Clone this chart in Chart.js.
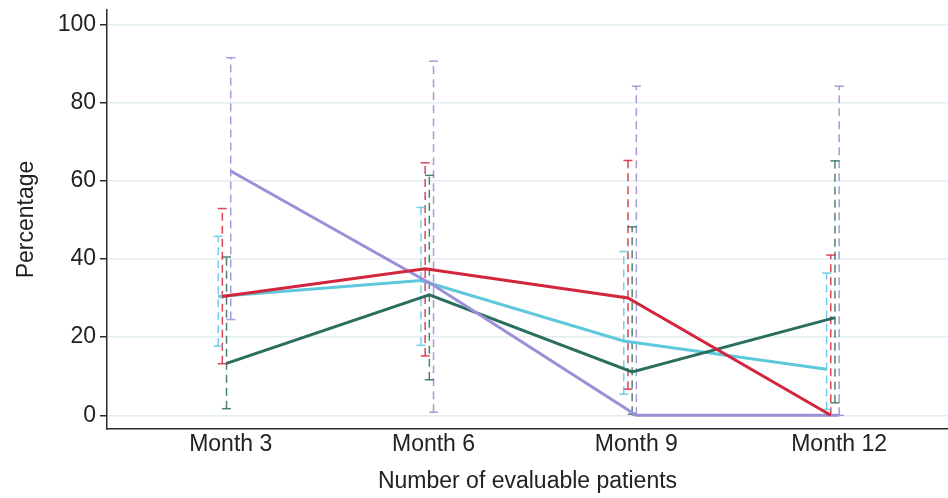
<!DOCTYPE html>
<html>
<head>
<meta charset="utf-8">
<script src="https://cdn.jsdelivr.net/npm/chart.js@4.4.1/dist/chart.umd.min.js"></script>
<style>
html,body{margin:0;padding:0;background:#fff;}
#wrap{width:948px;height:498px;}
</style>
</head>
<body>
<div id="wrap"><canvas id="c" width="948" height="498"></canvas></div>
<script>
// ---- data ----
const monthValues = [3, 6, 9, 12];
const monthLabels = ['Month 3', 'Month 6', 'Month 9', 'Month 12'];
const yTickValues = [0, 20, 40, 60, 80, 100];

const redValues    = [30.4, 37.5, 30.0, 0];
const redLower     = [13.2, 15.2, 6.7, 0];
const redUpper     = [52.9, 64.6, 65.2, 41.0];

const cyanValues   = [30.4, 34.5, 19.0, 11.8];
const cyanLower    = [17.7, 17.9, 5.4, 1.5];
const cyanUpper    = [45.8, 53.2, 41.9, 36.4];

const greenValues  = [13.3, 30.8, 11.1, 25.0];
const greenLower   = [1.7, 9.1, 0.3, 3.2];
const greenUpper   = [40.5, 61.4, 48.2, 65.1];

const purpleValues = [62.5, 33.3, 0, 0];
const purpleLower  = [24.5, 0.8, 0, 0];
const purpleUpper  = [91.5, 90.6, 84.2, 84.2];

// ---- styling / dodge (not data) ----
const series = [
  {vals: cyanValues,   lo: cyanLower,   hi: cyanUpper,   color: '#5ec8dc', bar: 'rgba(94,200,220,0.85)',  dodge: -0.186},
  {vals: redValues,    lo: redLower,    hi: redUpper,    color: '#d3263c', bar: 'rgba(211,38,60,0.85)',   dodge: -0.124},
  {vals: greenValues,  lo: greenLower,  hi: greenUpper,  color: '#2b6e5d', bar: 'rgba(43,110,93,0.85)',   dodge: -0.062},
  {vals: purpleValues, lo: purpleLower, hi: purpleUpper, color: '#9b90d8', bar: 'rgba(155,144,216,0.9)',  dodge: 0}
];
const lineOrder = {0: 3, 1: 0, 2: 2, 3: 1};

const datasets = [];
series.forEach((s, si) => {
  const bars = [];
  monthValues.forEach((m, i) => {
    bars.push({x: m + s.dodge, y: s.lo[i]});
    bars.push({x: m + s.dodge, y: s.hi[i]});
    bars.push({x: m + s.dodge, y: null});
  });
  datasets.push({
    data: bars,
    showLine: true,
    spanGaps: false,
    borderColor: s.bar,
    borderWidth: 1.5,
    borderDash: [8, 5],
    pointStyle: 'line',
    pointRadius: 4.5,
    pointBorderColor: s.bar,
    pointBorderWidth: 1.5,
    pointHoverRadius: 4.5,
    order: 10 + si
  });
});
series.forEach((s, si) => {
  datasets.push({
    data: monthValues.map((m, i) => ({x: m + s.dodge, y: s.vals[i]})),
    showLine: true,
    borderColor: s.color,
    borderWidth: 3,
    pointRadius: 0,
    tension: 0,
    order: lineOrder[si]
  });
});

const font = {family: "'Liberation Sans', Arial, sans-serif", size: 23};

new Chart(document.getElementById('c'), {
  type: 'scatter',
  data: {datasets},
  options: {
    responsive: false,
    animation: false,
    layout: {autoPadding: false, padding: {left: 0, right: 0, top: 10, bottom: 0}},
    plugins: {legend: {display: false}, tooltip: {enabled: false}},
    scales: {
      x: {
        type: 'linear',
        min: 1.17,
        max: 13.61,
        afterBuildTicks: sc => { sc.ticks = monthValues.map(v => ({value: v})); },
        afterFit: sc => { sc.height = 69; sc.paddingLeft = 0; sc.paddingRight = 0; },
        grid: {display: false, drawTicks: false},
        border: {display: true, color: '#2a2a2a', width: 1.5},
        ticks: {
          color: '#222',
          font,
          padding: 2,
          maxRotation: 0,
          autoSkip: false,
          callback: v => monthLabels[monthValues.indexOf(v)]
        },
        title: {display: true, text: 'Number of evaluable patients', color: '#222', font, padding: {top: 0, bottom: 3}}
      },
      y: {
        type: 'linear',
        min: -3.5,
        max: 103.7,
        afterBuildTicks: sc => { sc.ticks = yTickValues.map(v => ({value: v})); },
        afterFit: sc => { sc.width = 107; sc.paddingTop = 0; sc.paddingBottom = 0; },
        grid: {color: '#e2eef0', lineWidth: 1.5, tickColor: '#2a2a2a', tickLength: 7, tickWidth: 1.5, drawOnChartArea: true},
        border: {display: true, color: '#2a2a2a', width: 1.5},
        ticks: {color: '#222', font, padding: 4},
        title: {display: true, text: 'Percentage', color: '#222', font, padding: {top: 13, bottom: 0}}
      }
    }
  }
});
</script>
</body>
</html>
